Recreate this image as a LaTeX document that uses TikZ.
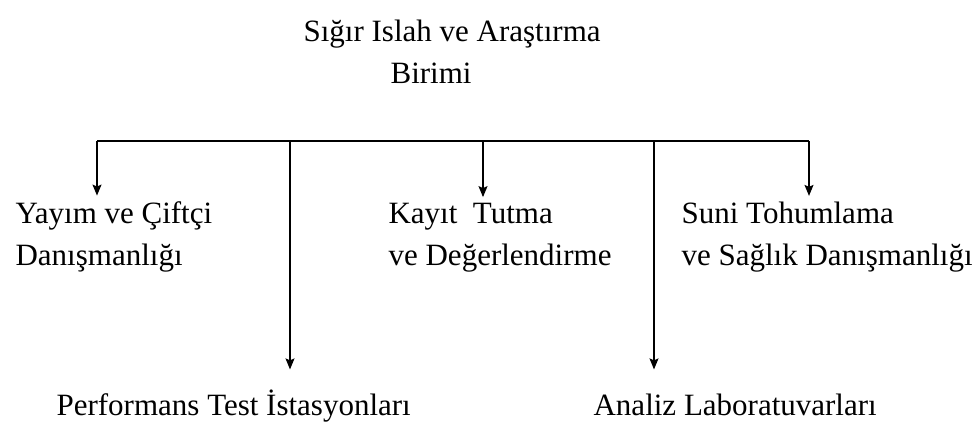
\documentclass[tikz,border=0pt]{standalone}
\usepackage{fontspec}
\setmainfont{Liberation Serif}
\usetikzlibrary{arrows.meta}

\begin{document}
\begin{tikzpicture}[x=1pt, y=-1pt, line width=1.2pt,
  {every node/.append style}={inner xsep=0pt, inner ysep=6pt, align=left, anchor=base west, font=\fontsize{31}{42}\selectfont},
  low/.style={text height=27pt, inner ysep=19pt},
  arr/.style={-{Stealth[length=11pt, width=9pt, inset=2pt]}}]

\useasboundingbox (0,0) rectangle (978,427);

% last line baselines
\node (birim) at (303,84) {Sığır Islah ve Araştırma\\\hspace*{87pt}Birimi};

\node (yayim) at (15,266) {Yayım ve Çiftçi\\Danışmanlığı};
\node (kayit) at (388,266) {Kayıt\ \ Tutma\\ve Değerlendirme};
\node (suni) at (681,266) {Suni Tohumlama\\ve Sağlık Danışmanlığı};
\node [low] (perf) at (56,416) {Performans Test İstasyonları};
\node [low] (analiz) at (593,416) {Analiz Laboratuvarları};

\coordinate (b1) at (97,141);
\coordinate (b2) at (290,141);
\coordinate (b3) at (483,141);
\coordinate (b4) at (654,141);
\coordinate (b5) at (809,141);

\draw (b1) -- (b5);

\draw [arr] (b1) to (b1 |- yayim.north);
\draw [arr] (b2) to (b2 |- perf.north);
\draw [arr] (b3) to (b3 |- kayit.north);
\draw [arr] (b4) to (b4 |- analiz.north);
\draw [arr] (b5) to (b5 |- suni.north);

\end{tikzpicture}
\end{document}
